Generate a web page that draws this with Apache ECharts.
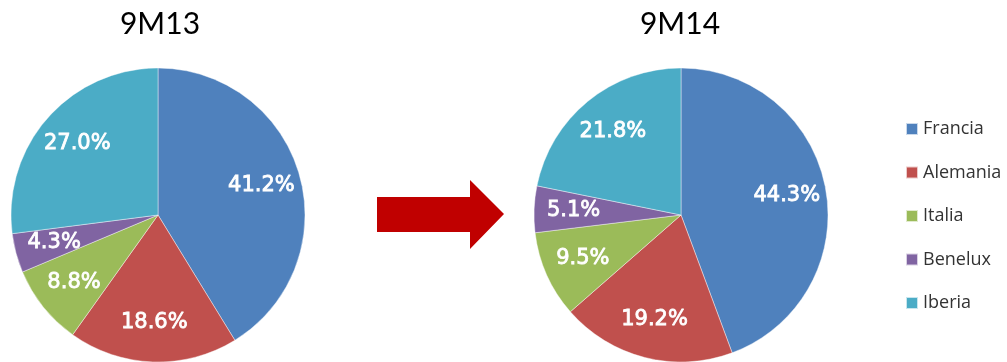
<!DOCTYPE html>
<html>
<head>
<meta charset="utf-8">
<script src="https://cdn.jsdelivr.net/npm/echarts@6/dist/echarts.min.js"></script>
<style>
html,body{margin:0;padding:0;background:#fff;}
#chart{width:1007px;height:362px;}
</style>
</head>
<body>
<div id="chart"></div>
<script>
const categories = ['Francia', 'Alemania', 'Italia', 'Benelux', 'Iberia'];
const share9M13 = [41.2, 18.6, 8.8, 4.3, 27.0];
const share9M14 = [44.3, 19.2, 9.5, 5.1, 21.8];
const periodTitles = ['9M13', '9M14'];
const palette = ['#4F81BD', '#C0504D', '#9BBB59', '#8064A2', '#4BACC6'];

const toData = arr => categories.map((c, i) => ({ name: c, value: arr[i] }));

function pieVisual(center, values) {
  return {
    type: 'pie', center: center, radius: 147, startAngle: 90, clockwise: true,
    data: toData(values), label: { show: false }, labelLine: { show: false },
    itemStyle: { borderColor: 'rgba(255,255,255,0.7)', borderWidth: 0.6 },
    emphasis: { disabled: true }, silent: true, animation: false
  };
}
function pieLabels(center, values) {
  return {
    type: 'pie', center: center, radius: [62, 147], startAngle: 90, clockwise: true,
    data: toData(values), itemStyle: { color: 'rgba(0,0,0,0)' },
    avoidLabelOverlap: false,
    label: {
      show: true, position: 'inside', color: '#fff', fontSize: 21,
      fontFamily: 'DejaVu Sans', fontWeight: 'normal',
      textBorderColor: '#fff', textBorderWidth: 0.8,
      formatter: p => p.value.toFixed(1) + '%'
    },
    labelLine: { show: false },
    emphasis: { disabled: true }, silent: true, animation: false
  };
}

const chart = echarts.init(document.getElementById('chart'), null, { renderer: 'canvas' });
chart.setOption({
  animation: false,
  color: palette,
  title: [
    { text: periodTitles[0], left: 160, top: 9, textAlign: 'center', padding: 0,
      textStyle: { fontSize: 30, fontWeight: 'normal', color: '#000', fontFamily: 'Lato' } },
    { text: periodTitles[1], left: 680, top: 9, textAlign: 'center', padding: 0,
      textStyle: { fontSize: 30, fontWeight: 'normal', color: '#000', fontFamily: 'Lato' } }
  ],
  legend: {
    data: categories, orient: 'vertical', left: 905, top: 120,
    itemWidth: 12, itemHeight: 12, itemGap: 25.5, icon: 'rect', selectedMode: false,
    padding: 0,
    textStyle: { fontSize: 18, color: '#333', fontFamily: 'Open Sans', lineHeight: 18 }
  },
  graphic: [{
    type: 'polygon',
    shape: { points: [[377, 197], [470, 197], [470, 180], [504, 214], [470, 249], [470, 232], [377, 232]] },
    style: { fill: '#C00000' }
  }],
  series: [
    pieVisual([158, 215], share9M13),
    pieVisual([681, 215], share9M14),
    pieLabels([158, 215], share9M13),
    pieLabels([681, 215], share9M14)
  ]
});
</script>
</body>
</html>
